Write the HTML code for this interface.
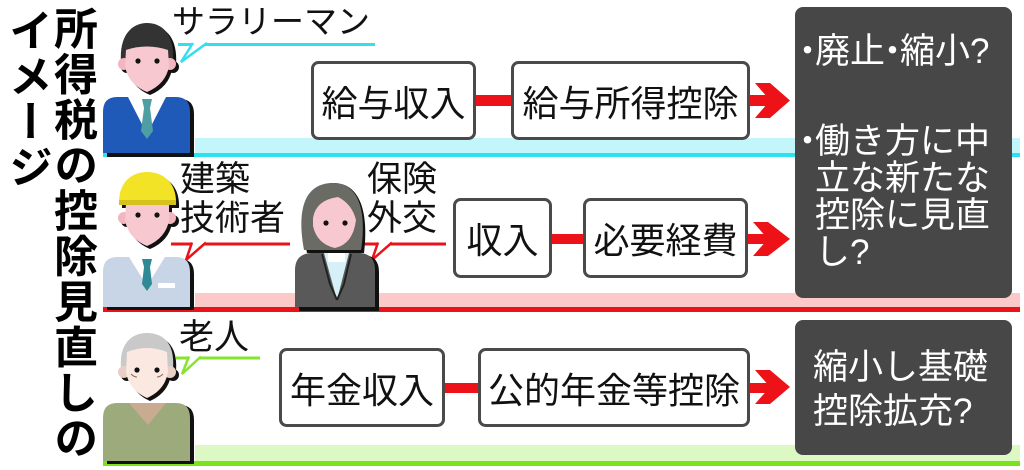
<!DOCTYPE html>
<html><head><meta charset="utf-8">
<style>
*{margin:0;padding:0;box-sizing:border-box}
html,body{width:1024px;height:470px;overflow:hidden;background:#fff}
body{position:relative;font-family:"Liberation Sans","Noto Sans CJK JP",sans-serif;color:#111}
svg{position:absolute;left:0;top:0}
.t{position:absolute;white-space:nowrap}
.v{position:absolute;writing-mode:vertical-rl;font-size:44px;font-weight:bold;line-height:46px;letter-spacing:1.5px;color:#000}
.bx{position:absolute;display:flex;align-items:center;justify-content:center;font-size:36px;color:#111;white-space:nowrap}
.dk{position:absolute;color:#fff;font-size:35px;line-height:37px;white-space:nowrap}
.d{margin:0 -10px}
</style></head><body>
<svg width="1024" height="470" viewBox="0 0 1024 470">
  <!-- bands -->
  <rect x="195" y="138" width="825" height="15" fill="#c2f6fb"/>
  <rect x="103" y="153" width="917" height="4" fill="#2fe0f0"/>
  <rect x="195" y="293" width="825" height="14" fill="#fcc9c9"/>
  <rect x="103" y="307" width="917" height="5" fill="#e8141a"/>
  <rect x="195" y="445" width="825" height="16" fill="#dcf9c4"/>
  <rect x="103" y="461" width="917" height="5" fill="#7be21c"/>

  <!-- dark boxes -->
  <rect x="795" y="7" width="217" height="291" rx="8" fill="#474747"/>
  <rect x="795" y="320" width="217" height="135" rx="8" fill="#474747"/>

  <!-- row boxes -->
  <g fill="#fff" stroke="#4a4a4a" stroke-width="3">
    <rect x="312.5" y="62.5" width="162" height="76" rx="6"/>
    <rect x="512.5" y="62.5" width="236" height="76" rx="6"/>
    <rect x="454.5" y="199.5" width="96" height="77" rx="6"/>
    <rect x="584.5" y="199.5" width="162" height="77" rx="6"/>
    <rect x="280.5" y="349.5" width="163" height="76" rx="6"/>
    <rect x="479.5" y="349.5" width="269" height="76" rx="6"/>
  </g>
  <!-- connectors & arrows -->
  <g fill="#ec1218">
    <rect x="476" y="95" width="35" height="11"/>
    <rect x="750" y="95" width="22" height="11"/>
    <polygon points="755,83 770,83 790,100.5 770,118 755,118 770,100.5"/>
    <rect x="552" y="234" width="31" height="10"/>
    <rect x="748" y="234" width="22" height="10"/>
    <polygon points="753,222 768,222 790,239 768,256 753,256 768,239"/>
    <rect x="445" y="383" width="33" height="10"/>
    <rect x="750" y="383" width="22" height="10"/>
    <polygon points="755,370 770,370 790,387 770,404 755,404 770,387"/>
  </g>

  <!-- speech lines -->
  <line x1="178" y1="44.5" x2="375" y2="44.5" stroke="#33dfef" stroke-width="3"/>
  <polyline points="193,43 181,62 207,43" stroke="#33dfef" stroke-width="2.5" fill="#fff"/>
  <line x1="171" y1="244" x2="290" y2="244" stroke="#e8141a" stroke-width="3"/>
  <polyline points="192,242.5 186,260 206,242.5" stroke="#e8141a" stroke-width="2.5" fill="#fff"/>
  <line x1="362" y1="244" x2="446" y2="244" stroke="#e8141a" stroke-width="3"/>
  <polyline points="378,242.5 372,260 392,242.5" stroke="#e8141a" stroke-width="2.5" fill="#fff"/>
  <line x1="176" y1="358" x2="260" y2="358" stroke="#86e430" stroke-width="3"/>
  <polyline points="189,356.5 182,374 201,356.5" stroke="#86e430" stroke-width="2.5" fill="#fff"/>

  <!-- salaryman -->
  <path d="M107,157 V114 Q107,99 121,99 H180 Q194,99 194,114 V157 Z" fill="#111"/>
  <path d="M103,153 V112 Q103,97 117,97 H176 Q190,97 190,112 V153 Z" fill="#1f5ab8"/>
  <polygon points="128,97 166,97 147,134" fill="#fff"/>
  <polygon points="142,99 152,99 150,108 144,108" fill="#4e9ea4"/>
  <polygon points="144,108 150,108 153,131 147,139 141,131" fill="#4e9ea4"/>
  <g transform="translate(3,3)" fill="#111">
    <path d="M121,62 C119,34 133,23 147,23 C162,23 175,34 173,62 Z"/>
    <path d="M126,50 Q147,43 168,50 L169,66 Q166,84 147,92 Q128,84 125,66 Z"/>
    <circle cx="124" cy="64" r="6"/><circle cx="170" cy="64" r="6"/>
  </g>
  <path d="M121,62 C119,34 133,23 147,23 C162,23 175,34 173,62 Z" fill="#333"/>
  <circle cx="124" cy="64" r="6" fill="#f2b6c0"/><circle cx="170" cy="64" r="6" fill="#f2b6c0"/>
  <path d="M126,50 Q147,43 168,50 L169,66 Q166,84 147,92 Q128,84 125,66 Z" fill="#f8c8d0"/>
  <circle cx="138" cy="61" r="2.6" fill="#111"/><circle cx="157" cy="61" r="2.6" fill="#111"/>

  <!-- construction worker -->
  <path d="M107,310 V274 Q107,259 121,259 H180 Q194,259 194,274 V310 Z" fill="#111"/>
  <path d="M103,307 V272 Q103,257 117,257 H176 Q190,257 190,272 V307 Z" fill="#c8d5e6"/>
  <polygon points="129,257 165,257 147,286" fill="#fff"/>
  <polygon points="142,259 152,259 150,267 144,267" fill="#2f8a95"/>
  <polygon points="144,267 150,267 152,284 147,291 142,284" fill="#2f8a95"/>
  <rect x="158" y="283" width="17" height="5" fill="#fff"/>
  <g transform="translate(3,3)" fill="#111">
    <path d="M119,205 C118,182 132,172 147,172 C163,172 177,182 176,205 Z"/>
    <path d="M126,203 L169,203 L169,220 Q166,238 147,246 Q128,238 125,220 Z"/>
    <circle cx="124" cy="218" r="6"/><circle cx="170" cy="218" r="6"/>
  </g>
  <circle cx="124" cy="218" r="6" fill="#f2b6c0"/><circle cx="170" cy="218" r="6" fill="#f2b6c0"/>
  <path d="M126,203 L169,203 L169,220 Q166,238 147,246 Q128,238 125,220 Z" fill="#f8c8d0"/>
  <path d="M119,205 C118,182 132,172 147,172 C163,172 177,182 176,205 Z" fill="#f3e326"/>
  <rect x="119" y="200" width="57" height="5" fill="#d6c21c"/>
  <circle cx="138" cy="215" r="2.6" fill="#111"/><circle cx="157" cy="215" r="2.6" fill="#111"/>

  <!-- woman -->
  <path d="M299,311 V272 Q299,256 315,255 H364 Q379,256 379,272 V311 Z" fill="#111"/>
  <path d="M295,307 V270 Q295,254 311,253 H360 Q375,254 375,270 V307 Z" fill="#595959"/>
  <polygon points="324,253 349,253 337,300" fill="#d6f0f7"/>
  <rect x="328" y="250" width="17" height="12" fill="#fff"/>
  <polyline points="322,254 330,284 337,300" stroke="#222" stroke-width="2" fill="none"/>
  <polyline points="351,254 344,284 337,300" stroke="#222" stroke-width="2" fill="none"/>
  <path d="M307,253 C300,220 302,184 333,183 C364,183 368,220 364,253 Z" fill="#111"/>
  <path d="M304,250 C298,218 300,183 333,183 C362,183 366,218 361,250 Z" fill="#6b6b66"/>
  <path d="M313,218 Q316,200 338,197 Q352,204 356,220 Q353,244 335,248 Q317,244 313,226 Z" fill="#f8c8d0"/>
  <circle cx="326" cy="223" r="2.6" fill="#111"/><circle cx="345" cy="223" r="2.6" fill="#111"/>

  <!-- old man -->
  <path d="M107,464 V420 Q107,405 121,405 H180 Q194,405 194,420 V464 Z" fill="#111"/>
  <path d="M103,461 V418 Q103,403 117,403 H176 Q190,403 190,418 V461 Z" fill="#9dab7c"/>
  <polygon points="129,403 166,403 148,425" fill="#c8ab90"/>
  <g transform="translate(3,3)" fill="#111">
    <path d="M121,368 C119,342 133,333 147,333 C162,333 175,342 173,368 Z"/>
    <path d="M127,352 Q147,344 167,352 L168,372 Q165,390 147,398 Q129,390 126,372 Z"/>
    <circle cx="124" cy="372" r="6"/><circle cx="170" cy="372" r="6"/>
  </g>
  <path d="M121,368 C119,342 133,333 147,333 C162,333 175,342 173,368 Z" fill="#c9c9c9"/>
  <circle cx="124" cy="372" r="6" fill="#e9cfc6"/><circle cx="170" cy="372" r="6" fill="#e9cfc6"/>
  <path d="M127,352 Q147,344 167,352 L168,372 Q165,390 147,398 Q129,390 126,372 Z" fill="#fbe8e1"/>
  <circle cx="137" cy="370" r="2.6" fill="#111"/><circle cx="157" cy="370" r="2.6" fill="#111"/>
  <path d="M131,374 q3,3 6,3 M163,374 q-3,3 -6,3" stroke="#8a6a5a" stroke-width="1" fill="none"/>
</svg>

<!-- title -->
<div class="v" style="left:48px;top:6px">所得税の控除見直しの</div>
<div class="v" style="left:3px;top:8px">イメージ</div>

<!-- labels -->
<div class="t" style="left:172px;top:4px;font-size:33px;line-height:36px">サラリーマン</div>
<div class="t" style="left:180px;top:160px;font-size:35px;line-height:39px">建築<br>技術者</div>
<div class="t" style="left:367px;top:160px;font-size:35px;line-height:39px">保険<br>外交</div>
<div class="t" style="left:179px;top:318px;font-size:35px;line-height:39px">老人</div>

<!-- box texts -->
<div class="bx" style="left:311px;top:61px;width:165px;height:79px">給与収入</div>
<div class="bx" style="left:511px;top:61px;width:239px;height:79px">給与所得控除</div>
<div class="bx" style="left:453px;top:198px;width:99px;height:80px">収入</div>
<div class="bx" style="left:583px;top:198px;width:165px;height:80px">必要経費</div>
<div class="bx" style="left:279px;top:348px;width:166px;height:79px">年金収入</div>
<div class="bx" style="left:478px;top:348px;width:272px;height:79px">公的年金等控除</div>

<!-- dark box texts -->
<div class="dk" style="left:800px;top:33px"><span class="d">・</span>廃止<span class="d">・</span>縮小?</div>
<div class="dk" style="left:800px;top:123px;padding-left:15px;text-indent:-15px;width:210px;white-space:normal"><span class="d">・</span>働き方に中<br>立な新たな<br>控除に見直<br>し?</div>
<div class="dk" style="left:813px;top:346px;line-height:44px">縮小し基礎<br>控除拡充?</div>
</body></html>
